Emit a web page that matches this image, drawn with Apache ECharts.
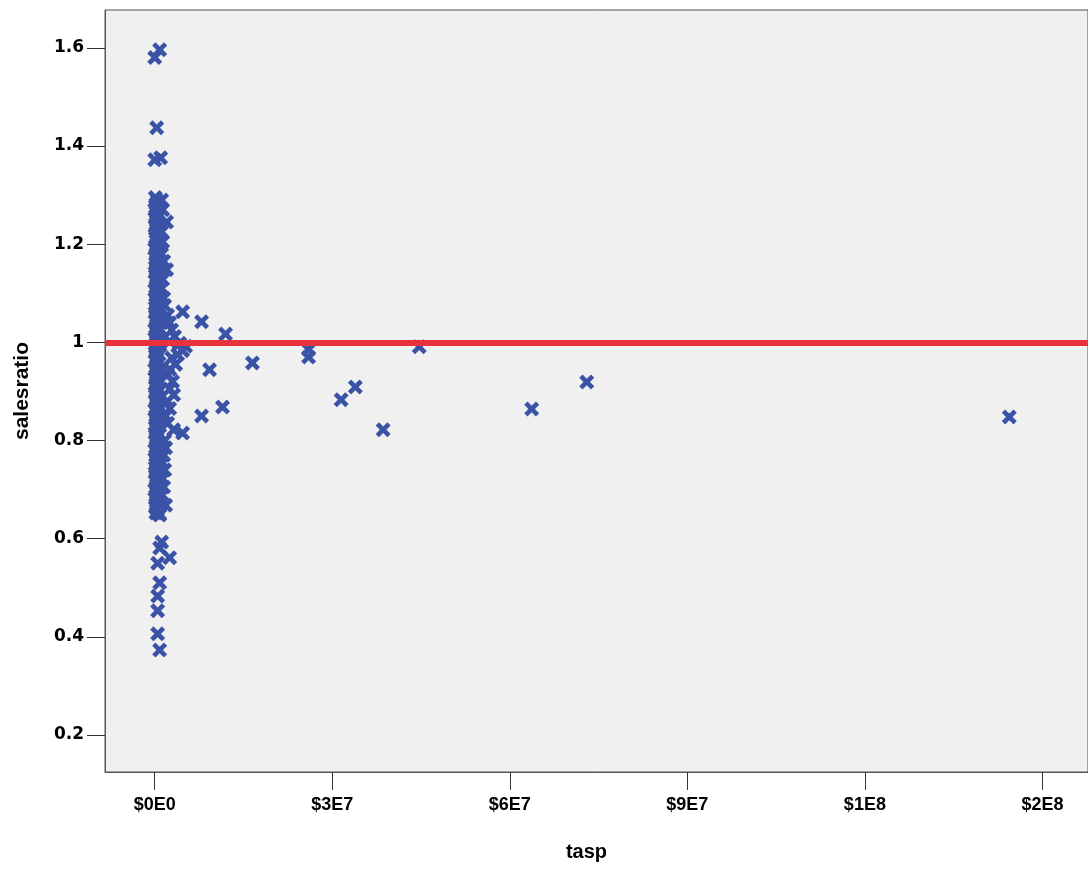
<!DOCTYPE html>
<html>
<head>
<meta charset="utf-8">
<script src="https://cdn.jsdelivr.net/npm/echarts@6/dist/echarts.min.js"></script>
<style>
html,body{margin:0;padding:0;background:#fff;}
#chart{width:1088px;height:869px;}
</style>
</head>
<body>
<div id="chart"></div>
<script>
// tick values and labels
var xTickValues = [0, 30000000, 60000000, 90000000, 120000000, 150000000];
var xTickLabels = ['$0E0', '$3E7', '$6E7', '$9E7', '$1E8', '$2E8'];
var yTickValues = [0.2, 0.4, 0.6, 0.8, 1.0, 1.2, 1.4, 1.6];
var yTickLabels = ['0.2', '0.4', '0.6', '0.8', '1', '1.2', '1.4', '1.6'];
var referenceValue = 1.0;

// dense column of small-tasp cases [tasp, salesratio]
var clusterA = [
  [100000,1.295],[200000,1.282],[0,1.270],[150000,1.258],[250000,1.247],[50000,1.236],[200000,1.224],[100000,1.213],
  [300000,1.200],[0,1.190],[150000,1.178],[250000,1.165],[100000,1.153],[50000,1.142],[200000,1.130],[300000,1.118],
  [0,1.106],[150000,1.095],[250000,1.083],[100000,1.071],[50000,1.060],[200000,1.048],[300000,1.036],[0,1.025],
  [150000,1.013],[250000,1.002],[100000,0.990],[50000,0.979],[200000,0.967],[300000,0.955],[0,0.944],[150000,0.932],
  [250000,0.920],[100000,0.909],[50000,0.897],[200000,0.885],[300000,0.874],[0,0.862],[150000,0.850],[250000,0.839],
  [100000,0.827],[50000,0.815],[200000,0.804],[300000,0.792],[0,0.780],[150000,0.769],[250000,0.757],[100000,0.745],
  [50000,0.734],[200000,0.722],[300000,0.710],[0,0.699],[150000,0.687],[250000,0.675],[100000,0.664],[200000,0.652]
];
var clusterD = [
  [450000,1.288],[400000,1.276],[500000,1.264],[420000,1.252],[380000,1.241],[480000,1.230],[440000,1.218],[400000,1.207],
  [520000,1.195],[450000,1.184],[380000,1.172],[480000,1.160],[420000,1.148],[500000,1.137],[440000,1.124],[390000,1.112],
  [470000,1.101],[430000,1.089],[510000,1.077],[400000,1.066],[460000,1.054],[420000,1.042],[490000,1.031],[380000,1.019],
  [450000,1.008],[500000,0.996],[410000,0.984],[470000,0.973],[440000,0.961],[390000,0.950],[480000,0.938],[420000,0.926],
  [500000,0.915],[450000,0.903],[400000,0.891],[470000,0.880],[430000,0.868],[510000,0.856],[390000,0.845],[460000,0.833],
  [420000,0.821],[480000,0.810],[440000,0.798],[400000,0.786],[500000,0.775],[450000,0.763],[380000,0.751],[470000,0.740],
  [420000,0.728],[490000,0.716],[440000,0.705],[400000,0.693],[460000,0.681],[430000,0.669],[470000,0.658]
];
var clusterB = [
  [700000,1.285],[650000,1.260],[800000,1.241],[600000,1.220],[750000,1.204],[900000,1.183],[650000,1.160],[700000,1.147],
  [850000,1.125],[600000,1.104],[750000,1.088],[900000,1.066],[700000,1.049],[800000,1.028],[650000,1.010],[900000,0.994],
  [750000,0.975],[600000,0.958],[850000,0.940],[700000,0.921],[800000,0.903],[650000,0.887],[900000,0.866],[750000,0.848],
  [600000,0.830],[850000,0.812],[700000,0.793],[800000,0.775],[650000,0.757],[900000,0.739],[750000,0.722],[600000,0.703],
  [850000,0.684],[700000,0.668]
];
var clusterC = [
  [1180000,1.290],[1350000,1.270],[2020000,1.245],[1180000,1.225],[1350000,1.205],[1180000,1.180],[1520000,1.165],[2020000,1.148],
  [1350000,1.128],[1180000,1.110],[1520000,1.090],[1690000,1.075],[2190000,1.055],[2530000,1.040],[2870000,1.025],[3370000,1.012],
  [2530000,1.002],[4210000,0.998],[5220000,0.992],[4720000,0.983],[3880000,0.975],[2870000,0.968],[3540000,0.955],[2530000,0.945],
  [2190000,0.934],[3030000,0.920],[2530000,0.905],[3200000,0.893],[2190000,0.880],[2530000,0.865],[1850000,0.850],[2190000,0.835],
  [1690000,0.800],[1850000,0.785],[1520000,0.770],[1350000,0.755],[1690000,0.740],[1350000,0.722],[1520000,0.705],[1180000,0.690],
  [1850000,0.668],[840000,0.650]
];
// isolated cases
var outliers = [
  [840000,1.596],[0,1.580],[340000,1.437],[0,1.372],[1000000,1.376],
  [840000,0.648],[1180000,0.593],[840000,0.581],[2530000,0.561],[500000,0.550],[840000,0.510],[500000,0.483],
  [500000,0.453],[500000,0.406],[840000,0.373],
  [4720000,1.062],[7920000,1.042],[11970000,1.017],[9270000,0.944],[16520000,0.958],[26000000,0.985],[26000000,0.970],
  [7920000,0.850],[11460000,0.868],[4720000,0.815],[3200000,0.822],[31500000,0.883],[33900000,0.909],[38600000,0.822],
  [44700000,0.991],[63700000,0.864],[73000000,0.919],[144400000,0.848]
];

var allPoints = clusterA.concat(clusterD, clusterB, clusterC, outliers);

var xSymbol = 'path://M0,22 L22,0 L50,28 L78,0 L100,22 L72,50 L100,78 L78,100 L50,72 L22,100 L0,78 L28,50 Z';

var chart = echarts.init(document.getElementById('chart'), null, {renderer: 'canvas'});
chart.setOption({
  animation: false,
  backgroundColor: '#ffffff',
  grid: {
    left: 105, top: 10, right: -3, bottom: 97,
    show: true, backgroundColor: '#f0f0f0', borderColor: '#555555', borderWidth: 1
  },
  xAxis: {
    type: 'value',
    min: -8400000, max: 157700000,
    name: 'tasp', nameLocation: 'middle', nameGap: 70,
    nameTextStyle: {fontFamily: 'Liberation Sans, Arial', fontWeight: 'bold', fontSize: 20, color: '#000', padding: [0, 20, 0, 0]},
    splitLine: {show: false},
    axisLine: {show: true, onZero: false, lineStyle: {color: '#555555', width: 1}},
    axisTick: {show: true, length: 18, customValues: xTickValues, lineStyle: {color: '#333333', width: 1}},
    axisLabel: {
      customValues: xTickValues, margin: 24,
      fontFamily: 'Liberation Sans, Arial', fontWeight: 'bold', fontSize: 18, color: '#000',
      formatter: function (v) { var i = xTickValues.indexOf(v); return i >= 0 ? xTickLabels[i] : ''; }
    }
  },
  yAxis: {
    type: 'value',
    min: 0.1246, max: 1.677,
    name: 'salesratio', nameLocation: 'middle', nameGap: 72, nameRotate: 90,
    nameTextStyle: {fontFamily: 'Liberation Sans, Arial', fontWeight: 'bold', fontSize: 21, color: '#000'},
    splitLine: {show: false},
    axisLine: {show: true, onZero: false, lineStyle: {color: '#555555', width: 1}},
    axisTick: {show: true, length: 18, customValues: yTickValues, lineStyle: {color: '#333333', width: 1}},
    axisLabel: {
      customValues: yTickValues, margin: 21,
      fontFamily: 'DejaVu Sans', fontWeight: 'bold', fontSize: 17, color: '#000',
      formatter: function (v) {
        for (var i = 0; i < yTickValues.length; i++) { if (Math.abs(yTickValues[i] - v) < 1e-6) return yTickLabels[i]; }
        return '';
      }
    }
  },
  series: [
    {
      type: 'scatter',
      data: allPoints,
      symbol: xSymbol,
      symbolSize: 15,
      itemStyle: {color: '#3a53a6', opacity: 1},
      z: 2
    },
    {
      type: 'scatter',
      data: [],
      z: 5,
      markLine: {
        silent: true, symbol: 'none', animation: false,
        label: {show: false},
        lineStyle: {color: '#e8333c', width: 6, type: 'solid'},
        data: [{yAxis: referenceValue}]
      }
    }
  ]
});
</script>
</body>
</html>
